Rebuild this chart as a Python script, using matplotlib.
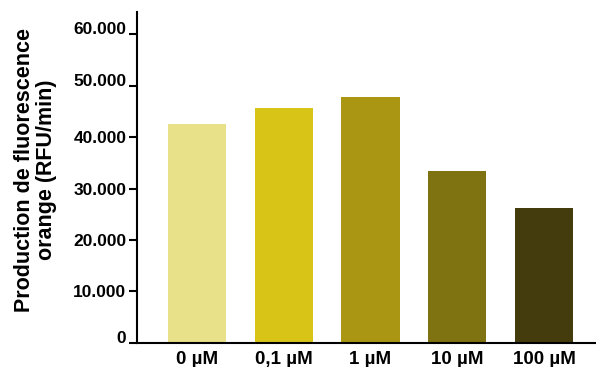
import matplotlib
matplotlib.use("Agg")
import matplotlib.pyplot as plt

# data
doses = ["0 µM", "0,1 µM", "1 µM", "10 µM", "100 µM"]
production = [42600, 45600, 47900, 33350, 26250]
bar_colors = ["#E9E08A", "#D8C416", "#AB9613", "#7F7211", "#443C0C"]
y_ticks = [0, 10000, 20000, 30000, 40000, 50000, 60000]
y_tick_labels = ["0", "10.000", "20.000", "30.000", "40.000", "50.000", "60.000"]

plt.rcParams['font.family'] = ['Liberation Sans', 'DejaVu Sans']

fig = plt.figure(figsize=(5.96, 3.67), dpi=100)
ax = fig.add_axes([0.2307, 0.0662, 0.7676, 0.9008])

x = list(range(len(doses)))
ax.bar(x, production, width=0.67, color=bar_colors)

ax.set_xlim(-0.686, 4.588)
ax.set_ylim(0, 64340)

ax.set_xticks(x)
ax.set_xticklabels(doses, fontsize=13.5, fontweight='bold')
ax.tick_params(axis='x', length=0, pad=6)

ax.set_yticks(y_ticks)
ax.set_yticklabels(y_tick_labels, fontsize=12.5, fontweight='bold')
ax.tick_params(axis='y', length=6, width=1.5, pad=2)
# the top two labels and the zero label sit above their ticks in the original
for lab in ax.get_yticklabels():
    if lab.get_text() in ("0", "50.000", "60.000"):
        lab.set_verticalalignment('baseline')

for side in ['top', 'right']:
    ax.spines[side].set_visible(False)
for side in ['left', 'bottom']:
    ax.spines[side].set_linewidth(1.5)

fig.text(0.059, 0.538, "Production de fluorescence\norange (RFU/min)",
         rotation=90, ha='center', va='center', multialignment='center',
         fontsize=15.5, fontweight='bold', linespacing=1.05)

fig.savefig("out.png", dpi=100)
